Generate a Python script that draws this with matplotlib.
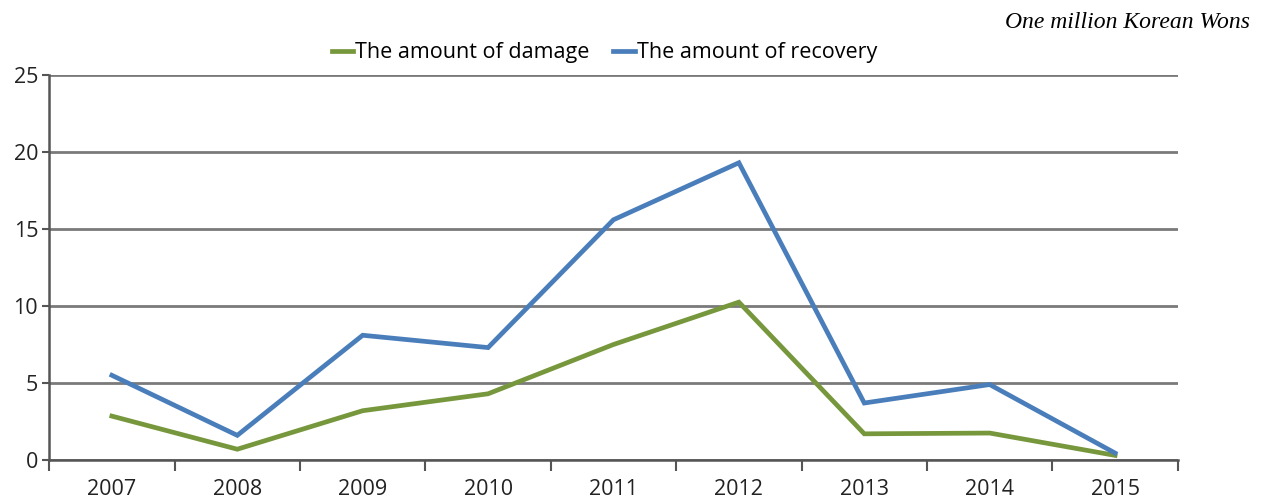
import matplotlib.pyplot as plt
from matplotlib.ticker import FixedLocator

years = ['2007', '2008', '2009', '2010', '2011', '2012', '2013', '2014', '2015']
damage = [2.85, 0.7, 3.2, 4.3, 7.5, 10.25, 1.7, 1.75, 0.3]
recovery = [5.5, 1.6, 8.1, 7.3, 15.6, 19.3, 3.7, 4.9, 0.45]

plt.rcParams['font.family'] = ['Open Sans', 'DejaVu Sans']

fig = plt.figure(figsize=(12.61, 5), dpi=100)
ax = fig.add_axes([0.039, 0.08, 0.895, 0.77])

x = range(len(years))
ax.plot(x, damage, color='#77973d', lw=3.4, label='The amount of damage', solid_joinstyle='miter')
ax.plot(x, recovery, color='#4a7ebb', lw=3.4, label='The amount of recovery', solid_joinstyle='miter')

ax.set_xlim(-0.5, len(years) - 0.5)
ax.set_ylim(0, 25)
ax.set_yticks([0, 5, 10, 15, 20, 25])
ax.yaxis.grid(True, color='#7a7a7a', lw=2.0)
ax.set_axisbelow(True)

ax.set_xticks(list(x))
ax.set_xticklabels(years)
ax.xaxis.set_minor_locator(FixedLocator([i - 0.5 for i in range(len(years) + 1)]))
ax.tick_params(axis='x', which='major', length=0, pad=14, labelsize=15.5, colors='#222222')
ax.tick_params(axis='x', which='minor', length=8, width=1.5, color='#555555')
ax.tick_params(axis='y', length=5, width=1.5, color='#555555', labelsize=15.5, labelcolor='#222222', pad=3)

for s in ['top', 'right']:
    ax.spines[s].set_visible(False)
for s in ['left', 'bottom']:
    ax.spines[s].set_color('#555555')
    ax.spines[s].set_linewidth(1.8)

ax.legend(loc='lower center', bbox_to_anchor=(0.492, 1.0), ncol=2, frameon=False,
          fontsize=15.5, handlelength=1.0, handletextpad=0.1, columnspacing=1.1,
          borderaxespad=0.15)

fig.text(0.991, 0.955, 'One million Korean Wons', ha='right', va='center',
         family='Liberation Serif', style='italic', fontsize=17)

fig.savefig('out.png', dpi=100)
